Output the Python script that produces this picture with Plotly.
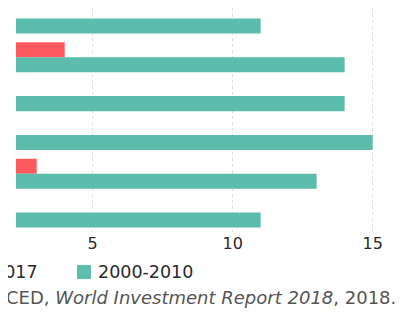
import plotly.graph_objects as go

categories = ["A", "B", "C", "D", "E", "F"]
series_names = ["2017", "2000-2010"]
vals_2017 = [0, 4, 0, 0, 3, 0]
vals_2000_2010 = [11, 14, 14, 15, 13, 11]
x_tick_vals = [5, 10, 15]
x_tick_labels = ["5", "10", "15"]
source_text = "CED, <i>World Investment Report 2018</i>, 2018."

RED = "#FF5A5F"
GREEN = "#5CBDAC"
FONT = "DejaVu Sans"
TXT = "#2a2a2a"

fig = go.Figure()
fig.add_trace(go.Bar(name=series_names[0], y=categories, x=vals_2017, orientation="h",
                     marker=dict(color=RED, line=dict(width=0))))
fig.add_trace(go.Bar(name=series_names[1], y=categories, x=vals_2000_2010, orientation="h",
                     marker=dict(color=GREEN, line=dict(width=0))))

# legend drawn manually (the first entry runs off the left edge)
shapes = [
    dict(type="rect", xref="paper", yref="paper", x0=-0.1165, x1=-0.081, y0=-0.2098, y1=-0.1473,
         fillcolor=RED, line=dict(width=0)),
    dict(type="rect", xref="paper", yref="paper", x0=0.1544, x1=0.1899, y0=-0.2098, y1=-0.1473,
         fillcolor=GREEN, line=dict(width=0)),
]
annotations = [
    dict(xref="paper", yref="paper", x=0.0608, y=-0.1786, xanchor="right", yanchor="middle",
         showarrow=False, text=series_names[0], font=dict(size=17.5, color=TXT, family=FONT)),
    dict(xref="paper", yref="paper", x=0.2025, y=-0.1786, xanchor="left", yanchor="middle",
         showarrow=False, text=series_names[1], font=dict(size=17.5, color=TXT, family=FONT)),
    dict(xref="paper", yref="paper", x=0.967, y=-0.2946, xanchor="right", yanchor="middle",
         showarrow=False, text=source_text, font=dict(size=18, color="#555555", family=FONT)),
]

fig.update_layout(
    width=411, height=316,
    margin=dict(l=8, r=8, t=0, b=92, autoexpand=False),
    paper_bgcolor="white", plot_bgcolor="white",
    barmode="group", bargap=0.227, bargroupgap=0,
    font=dict(family=FONT, size=16, color=TXT),
    xaxis=dict(range=[2.26, 16.37], tickvals=x_tick_vals, ticktext=x_tick_labels,
               showgrid=True, gridcolor="#dddddd", griddash="dot", gridwidth=1,
               zeroline=False, showline=False, ticks="", tickfont=dict(size=16, color=TXT)),
    yaxis=dict(range=[5.5, -0.27], showticklabels=False, showgrid=False,
               zeroline=False, showline=False, ticks=""),
    showlegend=False,
    shapes=shapes,
    annotations=annotations,
)

fig.write_html("out.html")
